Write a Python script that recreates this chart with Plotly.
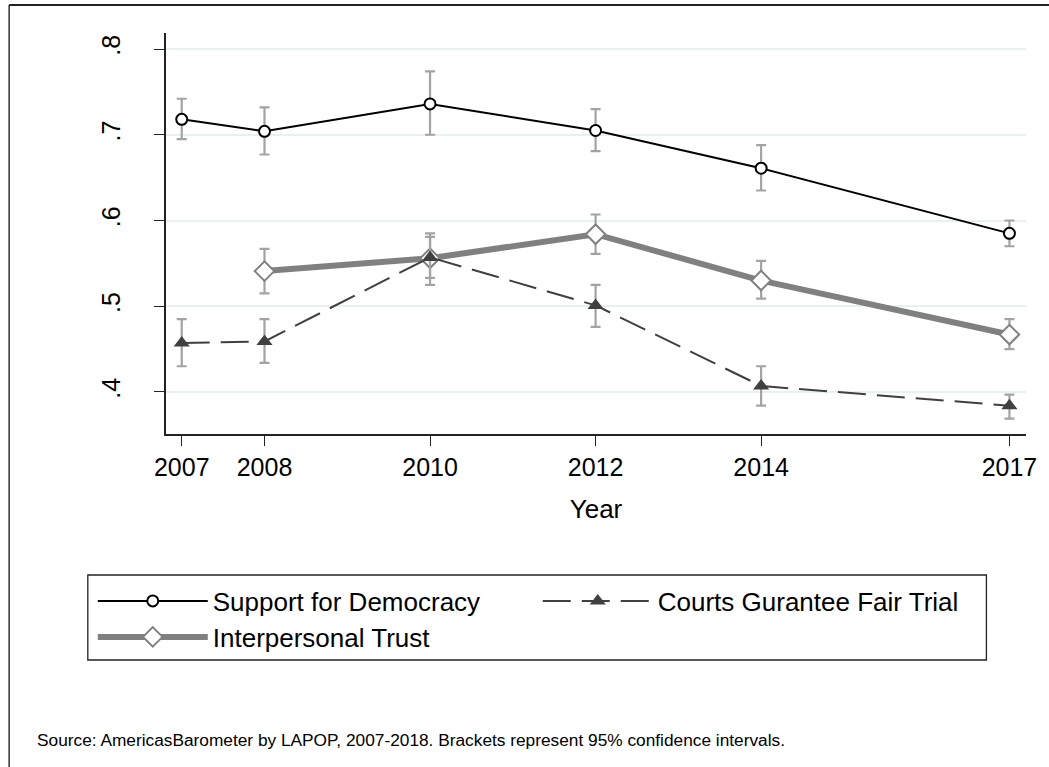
import plotly.graph_objects as go

# Survey years
years = [2007, 2008, 2010, 2012, 2014, 2017]

# Support for Democracy: means and 95% CI bounds
sfd = [0.718, 0.704, 0.736, 0.705, 0.661, 0.585]
sfd_lo = [0.695, 0.677, 0.700, 0.681, 0.635, 0.570]
sfd_hi = [0.742, 0.732, 0.774, 0.730, 0.688, 0.600]

# Courts Guarantee Fair Trial
courts = [0.457, 0.459, 0.557, 0.501, 0.407, 0.384]
courts_lo = [0.430, 0.434, 0.533, 0.476, 0.384, 0.369]
courts_hi = [0.485, 0.485, 0.581, 0.525, 0.430, 0.397]

# Interpersonal Trust (not fielded in 2007)
trust_years = [2008, 2010, 2012, 2014, 2017]
trust = [0.541, 0.556, 0.584, 0.530, 0.467]
trust_lo = [0.515, 0.525, 0.561, 0.509, 0.450]
trust_hi = [0.567, 0.585, 0.607, 0.553, 0.485]

y_ticks = [0.4, 0.5, 0.6, 0.7, 0.8]
y_ticktext = [".4", ".5", ".6", ".7", ".8"]

FONT = "Liberation Sans, Arial, sans-serif"
CI_COLOR = "#a3a3a3"

# plot-area geometry in pixels, used to convert to paper coordinates
W, H = 1049, 767
L, R, T, B = 166, 14, 33, 333
PW, PH = W - L - R, H - T - B


def px(xp):
    return (xp - L) / PW


def py(yp):
    return (H - B - yp) / PH


def ci(vals, lo, hi):
    return dict(type="data", symmetric=False,
                array=[h - v for v, h in zip(vals, hi)],
                arrayminus=[v - l for v, l in zip(vals, lo)],
                color=CI_COLOR, thickness=2.2, width=5)


fig = go.Figure()

fig.add_trace(go.Scatter(
    x=years, y=sfd, name="Support for Democracy", mode="lines+markers",
    line=dict(color="black", width=2),
    marker=dict(symbol="circle", size=11, color="white",
                line=dict(color="black", width=2)),
    error_y=ci(sfd, sfd_lo, sfd_hi), legend="legend", legendrank=1,
))

fig.add_trace(go.Scatter(
    x=trust_years, y=trust, name="Interpersonal Trust", mode="lines+markers",
    line=dict(color="#808080", width=6),
    marker=dict(symbol="diamond", size=15, color="white",
                line=dict(color="#808080", width=2)),
    error_y=ci(trust, trust_lo, trust_hi), legend="legend2", legendrank=3,
))

fig.add_trace(go.Scatter(
    x=years, y=courts, name="Courts Gurantee Fair Trial", mode="lines+markers",
    line=dict(color="#404040", width=2, dash="28px,11px"),
    marker=dict(symbol="triangle-up", size=14, color="#404040",
                line=dict(color="#404040", width=0)),
    error_y=ci(courts, courts_lo, courts_hi), legend="legend", legendrank=2,
))

shapes = [
    # legend frame
    dict(type="rect", xref="paper", yref="paper",
         x0=px(87), x1=px(995), y0=py(575), y1=py(660),
         line=dict(color="#222222", width=1.3)),
    # outer graph region border (left and top edges)
    dict(type="line", xref="paper", yref="paper",
         x0=px(7.5), x1=px(7.5), y0=py(5), y1=py(780),
         line=dict(color="#333333", width=1.5)),
    dict(type="line", xref="paper", yref="paper",
         x0=px(7.5), x1=px(1060), y0=py(5), y1=py(5),
         line=dict(color="#222222", width=2)),
]

legend_common = dict(orientation="h", xanchor="left", yanchor="middle",
                     font=dict(family=FONT, size=26, color="black"),
                     bgcolor="rgba(0,0,0,0)", borderwidth=0,
                     itemwidth=110, entrywidth=320, traceorder="normal")

fig.update_layout(
    width=W, height=H,
    margin=dict(l=L, r=R, t=T, b=B, pad=0),
    paper_bgcolor="white", plot_bgcolor="white",
    font=dict(family=FONT, color="black"),
    showlegend=True,
    legend=dict(x=px(92), y=py(601), **legend_common),
    legend2=dict(x=px(92), y=py(637), **legend_common),
    shapes=shapes,
    annotations=[dict(
        text="Source: AmericasBarometer by LAPOP, 2007-2018. Brackets represent 95% confidence intervals.",
        xref="paper", yref="paper", x=px(34), y=py(740),
        xanchor="left", yanchor="middle", showarrow=False,
        font=dict(family=FONT, size=17.3, color="black"))],
)

fig.update_xaxes(
    range=[2006.81, 2017.2], tickvals=years, ticktext=[str(y) for y in years],
    showgrid=False, zeroline=False, showline=True, linecolor="#222222", linewidth=1.5,
    ticks="outside", ticklen=10, tickwidth=1.3, tickcolor="#222222",
    tickfont=dict(family=FONT, size=25, color="black"),
    title=dict(text="Year", font=dict(family=FONT, size=26, color="black"), standoff=20),
)

fig.update_yaxes(
    range=[0.351, 0.8187], tickvals=y_ticks, ticktext=y_ticktext, tickangle=-90,
    showgrid=True, gridcolor="#e8f0f2", gridwidth=2,
    zeroline=False, showline=True, linecolor="#222222", linewidth=1.5,
    ticks="outside", ticklen=10, tickwidth=1.3, tickcolor="#222222",
    tickfont=dict(family=FONT, size=25, color="black"),
    ticklabelstandoff=24,
)

fig.write_html("out.html")
